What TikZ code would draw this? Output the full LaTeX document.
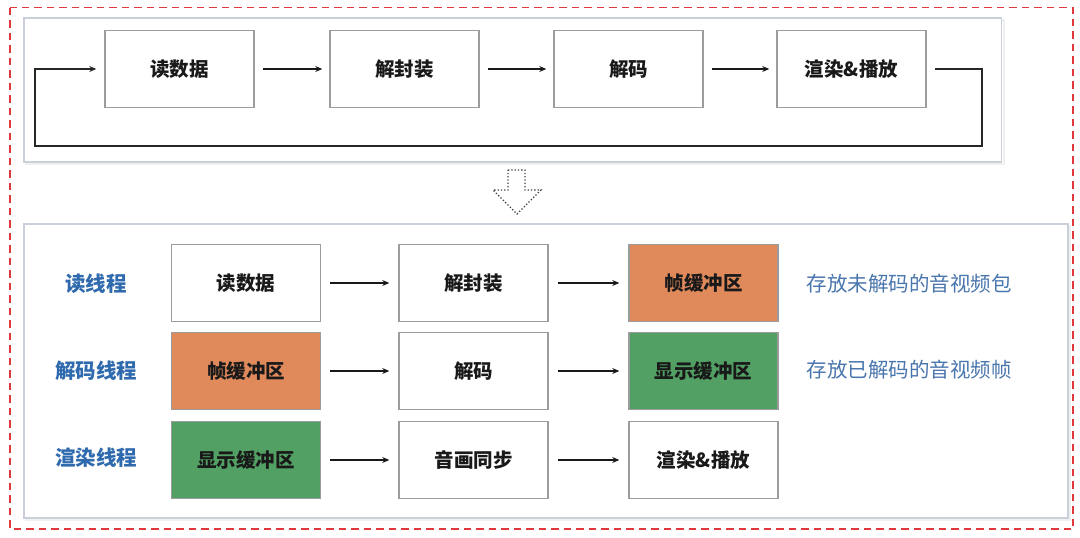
\documentclass[tikz,border=0pt]{standalone}
\usepackage{fontspec}
\setmainfont{Noto Sans CJK SC}
\usetikzlibrary{arrows.meta}
\definecolor{boxgray}{HTML}{9C9C9C}
\definecolor{panelgray}{HTML}{C9D0DA}
\definecolor{orangefill}{HTML}{E08A5C}
\definecolor{greenfill}{HTML}{52A064}
\definecolor{labelblue}{HTML}{2F6AAE}
\definecolor{descblue}{HTML}{4A76AE}
\definecolor{reddash}{HTML}{E0383C}
\begin{document}
\begin{tikzpicture}[x=1pt,y=-1pt,
  stepbox/.style={draw=boxgray,line width=1.5pt,minimum width=149pt,minimum height=77pt,inner sep=0pt,
    font=\fontsize{19.5}{23}\selectfont\bfseries,text=black!90},
  orangebox/.style={stepbox,fill=orangefill},
  greenbox/.style={stepbox,fill=greenfill},
  flow/.style={line width=1.5pt,black!90,-{Stealth[length=7pt,width=6pt]}},
  threadlabel/.style={font=\fontsize{20.5}{24}\selectfont\bfseries,text=labelblue},
  desclabel/.style={font=\fontsize{20.5}{24}\selectfont,text=descblue,anchor=west},
  panel/.style={draw=panelgray,line width=1.3pt}]
\useasboundingbox (0,0) rectangle (1080,538);
% outer red dashed frame
\draw[reddash,line width=1.1pt,dash pattern=on 7.5pt off 5pt] (10,7.5) rectangle (1073,529);
% panels
\draw[black!6,line width=2pt] (26,20) rectangle (1003.5,164);
\draw[panel,fill=white] (24,18) rectangle (1001.5,162);
\draw[black!6,line width=2pt] (26,226) rectangle (1070,520);
\draw[panel,fill=white] (24,224) rectangle (1068,518);

% top row
\node[stepbox] (t1) at (179.5,69) {读数据};
\node[stepbox] (t2) at (404.5,69) {解封装};
\node[stepbox] (t3) at (628.5,69) {解码};
\node[stepbox] (t4) at (851.5,69) {渲染\&播放};
\draw[flow,shorten <=8pt,shorten >=7pt] (t1.east) -- (t2.west);
\draw[flow,shorten <=8pt,shorten >=7pt] (t2.east) -- (t3.west);
\draw[flow,shorten <=8pt,shorten >=7pt] (t3.east) -- (t4.west);
\coordinate (lr) at (982,146);
\coordinate (ll) at (35,146);
\draw[line width=1.8pt,black!85,-{Stealth[length=7pt,width=6pt]},shorten <=8pt,shorten >=8pt]
  (t4.east) -| (lr) -- (ll) |- (t1.west);

% hollow dotted down arrow
\draw[black!75,line width=1.3pt,dotted,fill=white]
  (508,170) -- (525,170) -- (525,190) -- (541,190) -- (517,214) -- (493,190) -- (508,190) -- cycle;

% bottom rows
\node[threadlabel] (l1) at (96,284) {读线程};
\node[threadlabel] (l2) at (96,371) {解码线程};
\node[threadlabel] (l3) at (96,458) {渲染线程};

\node[stepbox] (a1) at (246,283) {读数据};
\node[stepbox] (a2) at (473.5,283) {解封装};
\node[orangebox] (a3) at (703.5,283) {帧缓冲区};
\node[orangebox] (b1) at (246,371) {帧缓冲区};
\node[stepbox] (b2) at (473.5,371) {解码};
\node[greenbox] (b3) at (703.5,371) {显示缓冲区};
\node[greenbox] (c1) at (246,460) {显示缓冲区};
\node[stepbox] (c2) at (473.5,460) {音画同步};
\node[stepbox] (c3) at (703.5,460) {渲染\&播放};

\foreach \u/\v in {a1/a2,a2/a3,b1/b2,b2/b3,c1/c2,c2/c3}
  \draw[flow,shorten <=9pt,shorten >=9pt] (\u.east) -- (\v.west);

\node[desclabel] (d1) at (803,284) {存放未解码的音视频包};
\node[desclabel] (d2) at (803,370) {存放已解码的音视频帧};
\end{tikzpicture}
\end{document}
